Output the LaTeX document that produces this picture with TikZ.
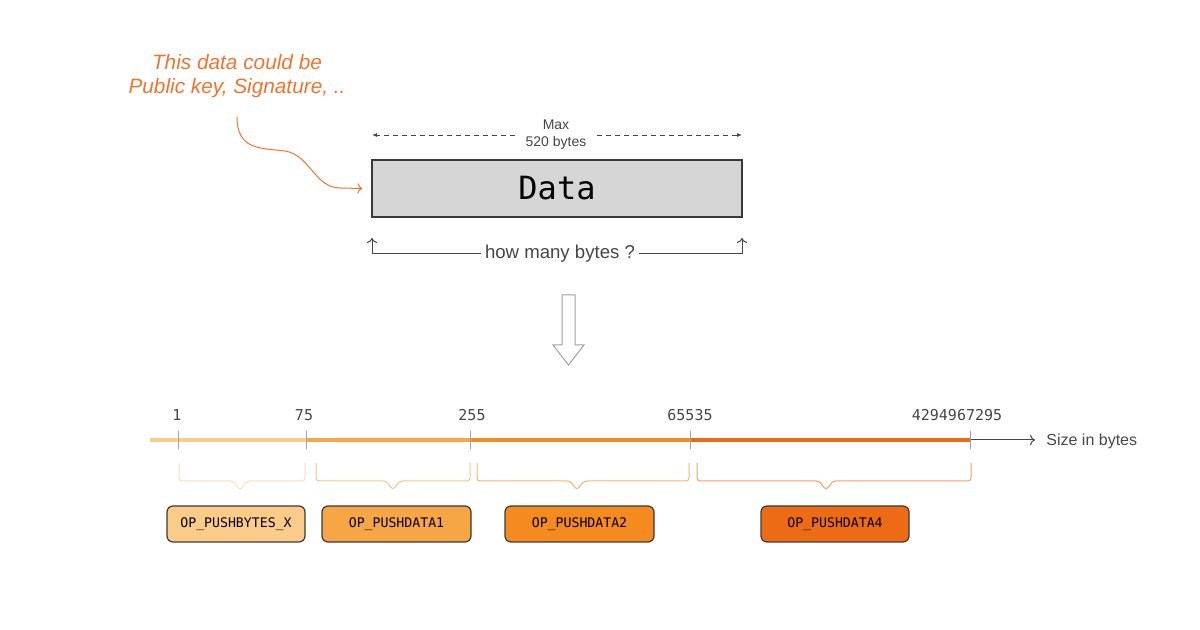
\documentclass[tikz,border=0pt]{standalone}
\usepackage{fontspec}
\setmainfont{Liberation Sans}
\setmonofont{DejaVu Sans Mono}
\usetikzlibrary{arrows.meta}

\definecolor{noteorange}{RGB}{240,116,46}
\definecolor{datagray}{RGB}{214,214,214}
\definecolor{boxborder}{RGB}{58,58,58}
\definecolor{textgray}{RGB}{70,70,70}
\definecolor{tickgray}{RGB}{160,160,160}
\definecolor{seg1}{RGB}{251,203,138}
\definecolor{seg2}{RGB}{246,166,69}
\definecolor{seg3}{RGB}{245,138,31}
\definecolor{seg4}{RGB}{238,107,21}

\begin{document}
\begin{tikzpicture}[x=0.5pt, y=-0.5pt,
note/.style={text=noteorange, align=center, font=\fontsize{10.4}{12}\selectfont\itshape},
datablock/.style={rectangle, draw=boxborder, fill=datagray, line width=0.6pt,
minimum width=185pt, minimum height=28.5pt, font=\fontsize{16}{18}\selectfont\ttfamily},
dimlabel/.style={align=center, inner xsep=5pt, text=textgray, font=\fontsize{7}{8.5}\selectfont},
dimline/.style={draw=textgray, line width=0.4pt, dash pattern=on 2.5pt off 2pt, -{Latex[length=2.5pt, width=2pt]}},
bytesline/.style={draw=textgray, line width=0.5pt, -{To[length=2.5pt]}},
hollow/.style={draw=tickgray, fill=white, line width=0.5pt},
seg/.style={line width=2pt},
tick/.style={draw=tickgray, line width=0.5pt},
num/.style={text=textgray, font=\fontsize{7.5}{9}\selectfont\ttfamily},
brace/.style={line width=0.5pt, rounded corners=1.5pt},
opcode/.style={rectangle, rounded corners=3pt, draw=boxborder, line width=0.6pt,
minimum height=18pt, font=\fontsize{6.6}{8}\selectfont\ttfamily},
line/.style={draw, -{To[length=2.5pt]}}
]
\useasboundingbox (0,0) rectangle (1200,630);

% data and the note on it
\node [note] (note) at (237,76) {This data could be\\Public key, Signature, ..};
\node [datablock] (data) at (557,188.5) {Data};
\path [line, draw=noteorange, line width=0.5pt] ([yshift=-6pt]note.south)
.. controls (237,150) and (260,148) .. (285,151)
.. controls (310,155) and (315,188) .. (340,188) -- ([xshift=-4.5pt]data.west);

% max size
\node [dimlabel] (max) at (556,135) {Max\\520 bytes};
\coordinate (dimleft) at (372,135);
\coordinate (dimright) at (742,135);
\path [dimline] (max.west) -- (dimleft);
\path [dimline] (max.east) -- (dimright);

% how many bytes
\node [text=textgray, inner sep=2pt, font=\fontsize{9.3}{11}\selectfont] (howmany) at (560,254) {how many bytes ?};
\coordinate (hmleft) at (372,238);
\coordinate (hmright) at (742,238);
\path [bytesline] (howmany.west) -- (hmleft |- howmany) -- (hmleft);
\path [bytesline] (howmany.east) -- (hmright |- howmany) -- (hmright);

% down arrow
\draw [hollow] (562,295) -- (575,295) -- (575,345) -- (584,345) -- (568.5,365)
-- (553,345) -- (562,345) -- cycle;

% size axis
\coordinate (axstart) at (150,440);
\coordinate (t1) at (178,440);
\coordinate (t75) at (306,440);
\coordinate (t255) at (470,440);
\coordinate (t65535) at (690,440);
\coordinate (tmax) at (970,440);
\coordinate (axend) at (1035,440);
\draw [seg, draw=seg1] (axstart) -- (t75);
\draw [seg, draw=seg2] (t75) -- (t255);
\draw [seg, draw=seg3] (t255) -- (t65535);
\draw [seg, draw=seg4] (t65535) -- (tmax);
\path [line, draw=textgray, line width=0.5pt] (tmax) -- (axend);
\node [anchor=west, text=textgray, inner sep=0pt, font=\fontsize{8}{10}\selectfont] (sizelbl) at (1046,441) {Size in bytes};
\foreach \t in {t1, t75, t255, t65535, tmax}
\draw [tick] ([yshift=4.5pt]\t) -- ([yshift=-4.5pt]\t);

\node [num] (n1) at (177,415) {1};
\node [num] (n75) at (304,415) {75};
\node [num] (n255) at (472,415) {255};
\node [num] (n65535) at (690,415) {65535};
\node [num] (nmax) at (957,415) {4294967295};

% ranges
\foreach \xa/\xm/\xb/\c in {179/240/305/seg1, 316/393/470/seg2, 477/577/689/seg3, 697/826/971/seg4}
\draw [brace, draw=\c!65!white] (\xa,463) -- (\xa,481) -- (\xm-7,481) -- (\xm,490)
-- (\xm+7,481) -- (\xb,481) -- (\xb,463);

\node [opcode, fill=seg1, minimum width=69pt] (pushbytes) at (236,524) {OP\_PUSHBYTES\_X};
\node [opcode, fill=seg2, minimum width=74.5pt] (pushdata1) at (396.5,524) {OP\_PUSHDATA1};
\node [opcode, fill=seg3, minimum width=74.5pt] (pushdata2) at (579.5,524) {OP\_PUSHDATA2};
\node [opcode, fill=seg4, minimum width=74pt] (pushdata4) at (835,524) {OP\_PUSHDATA4};
\end{tikzpicture}
\end{document}
